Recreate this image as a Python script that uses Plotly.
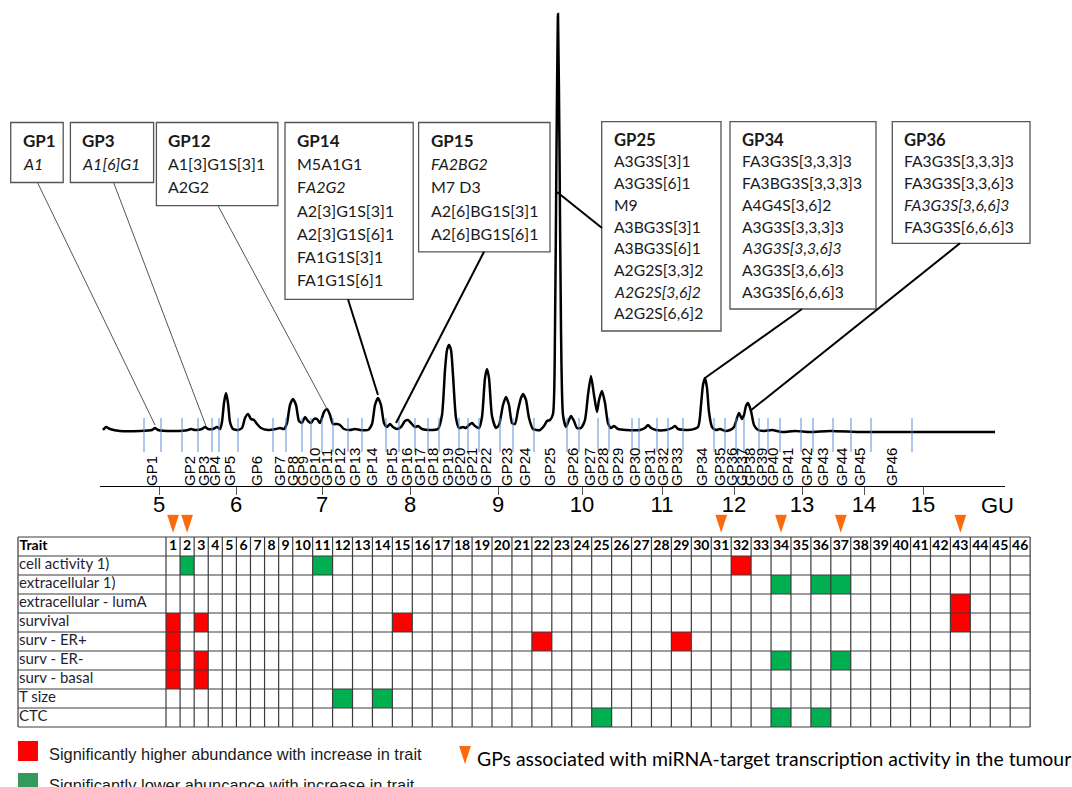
import plotly.graph_objects as go

W, H = 1072, 787

# ---------------- chromatogram: retention time (min) vs. fluorescence (EU) ----------------
rt_min = [0.15, 0.30, 0.50, 1.00, 2.00, 2.60, 2.75, 2.90, 3.75, 4.40, 4.55, 4.75, 5.10, 5.25, 5.40,
          5.65, 5.85, 6.00, 6.10, 6.20, 6.30, 6.40, 6.50, 6.65, 6.90, 7.10, 7.25, 7.40, 7.55, 7.70,
          7.85, 8.05, 8.40, 8.80, 9.00, 9.20, 9.35, 9.50, 9.65, 9.80, 9.95, 10.10, 10.25, 10.40, 10.55,
          10.70, 10.85, 11.00, 11.20, 11.35, 11.50, 11.65, 11.85, 12.00, 12.20, 12.50, 12.75, 13.00,
          13.40, 13.60, 13.75, 13.90, 14.05, 14.20, 14.35, 14.50, 14.65, 14.85, 15.05, 15.25, 15.40,
          15.55, 15.75, 15.90, 16.10, 16.50, 16.90, 17.10, 17.25, 17.35, 17.45, 17.55, 17.65, 17.80,
          17.95, 18.15, 18.30, 18.45, 18.60, 18.75, 18.95, 19.10, 19.25, 19.35, 19.45, 19.60, 19.80,
          19.95, 20.15, 20.30, 20.45, 20.60, 20.75, 20.90, 21.05, 21.15, 21.30, 21.45, 21.65, 22.00,
          22.20, 22.35, 22.50, 22.65, 22.75, 22.825, 22.90, 22.975, 23.05, 23.15, 23.30, 23.45, 23.55,
          23.70, 23.85, 24.05, 24.25, 24.40, 24.55, 24.70, 24.85, 24.95, 25.10, 25.25, 25.40, 25.55,
          25.70, 25.90, 26.30, 27.00, 27.25, 27.40, 27.55, 27.80, 28.30, 28.60, 28.75, 28.90, 29.40,
          29.90, 30.05, 30.15, 30.25, 30.35, 30.45, 30.60, 30.80, 31.00, 31.25, 31.50, 31.70, 31.85,
          31.95, 32.10, 32.20, 32.30, 32.40, 32.55, 32.70, 32.90, 33.20, 33.60, 34.10, 34.75, 35.50,
          36.50, 38.00, 40.00, 42.50, 44.75]
fluor = [0, 3, 1, -1, -1, 0, 2, 0, -1, 0, 1, 0, 1, 3, 1,
         1, 3, 1, 8, 27, 37, 27, 8, 1, 0, 2, 12, 16, 11, 10,
         6, 2, 0, 1, 2, 1, 7, 25, 31, 25, 9, 7, 13, 9, 7,
         11, 11, 7, 18, 21, 15, 6, 6, 5, 1, 0, 1, 0,
         0, 6, 25, 32, 25, 7, 3, 6, 3, 1, 3, 9, 10,
         7, 3, 4, 1, 0, 1, 15, 60, 80, 85, 80, 55, 12,
         2, 3, 2, 5, 7, 4, 2, 13, 52, 61, 52, 14, 2,
         5, 25, 33, 25, 7, 6, 20, 32, 36, 30, 12, 1, 0,
         4, 9, 10, 16, 100, 280, 416, 280, 100, 15, 3, 10, 14,
         9, 2, 2, 10, 35, 54, 35, 18, 30, 39, 27, 7, 2,
         4, 1, 0, 0, 2, 5, 2, 0, 0, 2, 4, 1, 0,
         3, 25, 45, 52, 42, 18, 3, 0, 1, -1, 0, 3, 12,
         17, 11, 15, 24, 27, 19, 5, 0, -1, 0, -2, -1, -2,
         -1, -2, -2, -2, -2]

# glycan peak (GP) integration boundaries, min
gp_bounds = [2.2, 3.05, 4.1, 4.9, 5.6, 5.95, 6.9, 8.65, 9.3, 10.1, 10.55, 11.1, 11.65, 12.4, 13.1,
             14.3, 14.95, 15.75, 16.4, 16.95, 17.95, 18.4, 18.95, 20.0, 20.65, 21.7, 23.35, 23.95,
             24.9, 25.45, 26.6, 26.95, 27.85, 28.4, 29.15, 30.7, 31.25, 31.8, 32.2, 32.95, 33.4,
             34.0, 35.05, 35.65, 36.65, 37.55, 38.55, 40.6]

gp_names = [f"GP{i}" for i in range(1, 47)]
gp_rt = [2.6, 4.5, 5.2, 5.75, 6.5, 7.85, 9.0, 9.65, 10.15, 10.75, 11.35, 12.0, 12.75, 13.6, 14.6,
         15.35, 16.0, 16.65, 17.4, 18.0, 18.6, 19.3, 20.35, 21.25, 22.5, 23.65, 24.5, 25.15, 25.9,
         26.75, 27.5, 28.15, 28.85, 30.1, 31.0, 31.6, 32.1, 32.5, 33.1, 33.65, 34.4, 35.35, 36.15,
         37.1, 38.0, 39.6]

# glucose-unit calibration ladder
gu_values = [5, 6, 7, 8, 9, 10, 11, 12, 13, 14, 15]
gu_rt = [2.95, 6.8, 11.1, 15.5, 19.9, 24.1, 28.1, 31.7, 35.1, 38.2, 41.15]

# structures assigned to the annotated peaks (italic = minor structure)
gp1_structures = ["<i>A1</i>"]
gp3_structures = ["<i>A1[6]G1</i>"]
gp12_structures = ["A1[3]G1S[3]1", "A2G2"]
gp14_structures = ["M5A1G1", "F<i>A2G2</i>", "A2[3]G1S[3]1", "A2[3]G1S[6]1", "FA1G1S[3]1", "FA1G1S[6]1"]
gp15_structures = ["<i>FA2BG2</i>", "M7 D3", "A2[6]BG1S[3]1", "A2[6]BG1S[6]1"]
gp25_structures = ["A3G3S[3]1", "A3G3S[6]1", "M9", "A3BG3S[3]1", "A3BG3S[6]1", "A2G2S[3,3]2",
                   "<i>A2G2S[3,6]2</i>", "A2G2S[6,6]2"]
gp34_structures = ["FA3G3S[3,3,3]3", "FA3BG3S[3,3,3]3", "A4G4S[3,6]2", "A3G3S[3,3,3]3",
                   "<i>A3G3S[3,3,6]3</i>", "A3G3S[3,6,6]3", "A3G3S[6,6,6]3"]
gp36_structures = ["FA3G3S[3,3,3]3", "FA3G3S[3,3,6]3", "<i>FA3G3S[3,6,6]3</i>", "FA3G3S[6,6,6]3"]

# ---------------- trait association table ----------------
traits = ["cell activity 1)", "extracellular 1)", "extracellular - lumA", "survival",
          "surv - ER+", "surv - ER-", "surv - basal", "T size", "CTC"]
gp_numbers = list(range(1, 47))
higher_with_trait = [("cell activity 1)", 32), ("extracellular - lumA", 43),
                     ("survival", 1), ("survival", 3), ("survival", 15), ("survival", 43),
                     ("surv - ER+", 1), ("surv - ER+", 22), ("surv - ER+", 29),
                     ("surv - ER-", 1), ("surv - ER-", 3),
                     ("surv - basal", 1), ("surv - basal", 3)]
lower_with_trait = [("cell activity 1)", 2), ("cell activity 1)", 11),
                    ("extracellular 1)", 34), ("extracellular 1)", 36), ("extracellular 1)", 37),
                    ("surv - ER-", 34), ("surv - ER-", 37),
                    ("T size", 12), ("T size", 14),
                    ("CTC", 25), ("CTC", 34), ("CTC", 36)]
mirna_target_gps = [1, 2, 31, 34, 37, 43]


def pxx(x):
    return x / W


def pxy(y):
    return 1 - y / H


TEXT_FONT = "Lato"
ARIAL = "Liberation Sans"
ORANGE = "#fb6a0c"

fig = go.Figure()

# GP boundary markers
bx, by = [], []
for t in gp_bounds:
    bx += [t, t, None]
    by += [12, -22, None]
fig.add_trace(go.Scatter(x=bx, y=by, mode="lines", xaxis="x2", yaxis="y",
                         line=dict(color="#5b8fd6", width=1), hoverinfo="skip"))

# chromatogram trace
fig.add_trace(go.Scatter(x=rt_min, y=fluor, mode="lines", xaxis="x", yaxis="y",
                         line=dict(color="black", width=2.5, shape="spline", smoothing=0.6),
                         hoverinfo="skip"))

# ---- table geometry (table units: one unit per row vertically) ----
TRAIT_W, NARROW_W, WIDE_W = 148.0, 14.08, 19.93
T_LEFT = 18.0
edges = [T_LEFT, T_LEFT + TRAIT_W]
for n in gp_numbers:
    edges.append(edges[-1] + (NARROW_W if n < 10 else WIDE_W))
centers = [(edges[i + 1] + edges[i + 2]) / 2 for i in range(len(gp_numbers))]

n_rows = len(traits) + 1
z = [[0] * (len(gp_numbers) + 1) for _ in range(n_rows)]
for trait, gp in higher_with_trait:
    z[traits.index(trait) + 1][gp] = 1
for trait, gp in lower_with_trait:
    z[traits.index(trait) + 1][gp] = -1

fig.add_trace(go.Heatmap(z=z, x=edges, y=list(range(n_rows + 1)), xaxis="x3", yaxis="y3",
                         zmin=-1, zmax=1, showscale=False, hoverinfo="skip",
                         colorscale=[[0, "#00b050"], [0.5, "#ffffff"], [1, "#ff0000"]]))

gx, gy = [], []
for e in edges:
    gx += [e, e, None]
    gy += [0, n_rows, None]
for r in range(n_rows + 1):
    gx += [edges[0], edges[-1], None]
    gy += [r, r, None]
fig.add_trace(go.Scatter(x=gx, y=gy, mode="lines", xaxis="x3", yaxis="y3",
                         line=dict(color="#3c3c3c", width=1.2), hoverinfo="skip"))

# header row
fig.add_trace(go.Scatter(x=centers, y=[0.5] * len(gp_numbers), text=[str(n) for n in gp_numbers],
                         mode="text", xaxis="x3", yaxis="y3", hoverinfo="skip",
                         textfont=dict(family=TEXT_FONT, size=14, color="black", weight="bold")))
fig.add_trace(go.Scatter(x=[T_LEFT + 1.5], y=[0.5], text=["Trait"], mode="text",
                         textposition="middle right", xaxis="x3", yaxis="y3", hoverinfo="skip",
                         textfont=dict(family=TEXT_FONT, size=14, color="black", weight="bold")))
# trait names
fig.add_trace(go.Scatter(x=[T_LEFT + 1.0] * len(traits), y=[i + 1.5 for i in range(len(traits))],
                         text=traits, mode="text", textposition="middle right",
                         xaxis="x3", yaxis="y3", hoverinfo="skip",
                         textfont=dict(family=TEXT_FONT, size=15, color="#1f1f33")))

# miRNA-target arrows above the table
fig.add_trace(go.Scatter(x=[centers[g - 1] for g in mirna_target_gps], y=[-0.22] * len(mirna_target_gps),
                         mode="markers", xaxis="x3", yaxis="y3", hoverinfo="skip",
                         marker=dict(symbol="arrow", angle=180, size=19, color=ORANGE,
                                     line=dict(width=0))))
# legend arrow
fig.add_trace(go.Scatter(x=[465], y=[11.95], mode="markers", xaxis="x3", yaxis="y3",
                         hoverinfo="skip",
                         marker=dict(symbol="arrow", angle=180, size=19, color=ORANGE,
                                     line=dict(width=0))))

shapes = []
annotations = []

# ---- structure boxes above the chromatogram ----
boxes = [
    ("GP1", gp1_structures, (10.7, 122.5, 63.2, 182.5), 23.2, 16),
    ("GP3", gp3_structures, (70.4, 122.5, 153.6, 182.5), 23.2, 16),
    ("GP12", gp12_structures, (156.4, 122.5, 277.9, 205.7), 23.2, 16),
    ("GP14", gp14_structures, (285.0, 122.5, 413.2, 299.3), 23.2, 16),
    ("GP15", gp15_structures, (418.6, 122.5, 550.0, 251.8), 23.2, 16),
    ("GP25", gp25_structures, (601.7, 121.7, 721.0, 331.0), 21.7, 15.7),
    ("GP34", gp34_structures, (730.0, 121.7, 876.0, 309.0), 21.7, 15.7),
    ("GP36", gp36_structures, (892.3, 121.7, 1030.0, 243.3), 21.7, 15.7),
]
for title, lines, (l, t, r, b), step, fs in boxes:
    shapes.append(dict(type="rect", xref="paper", yref="paper", x0=pxx(l), x1=pxx(r),
                       y0=pxy(b), y1=pxy(t), line=dict(color="#555555", width=1.3),
                       fillcolor="white", layer="above"))
    for i, txt in enumerate([f"<b>{title}</b>"] + lines):
        annotations.append(dict(xref="paper", yref="paper", x=pxx(l + 10), y=pxy(t + 18 + i * step),
                                xanchor="left", yanchor="middle", showarrow=False, text=txt,
                                font=dict(family=TEXT_FONT, size=fs + (1 if i == 0 else 0),
                                          color="#1a1a1a")))

# leader lines from boxes to peaks
leaders = [
    ((37.5, 182.5), (155, 425), 1, "#555555"),
    ((113.6, 182.5), (206, 426), 1, "#555555"),
    ((218.0, 205.7), (327, 409), 1, "#555555"),
    ((348.0, 299.3), (378, 395), 2, "black"),
    ((484.0, 251.8), (396, 423), 2, "black"),
    ((602.0, 228.0), (557, 192), 2, "black"),
    ((802.0, 309.0), (705, 378), 2, "black"),
    ((960.0, 243.3), (750, 411), 2, "black"),
]
for (x0, y0), (x1, y1), w, c in leaders:
    shapes.append(dict(type="line", xref="paper", yref="paper", x0=pxx(x0), y0=pxy(y0),
                       x1=pxx(x1), y1=pxy(y1), line=dict(color=c, width=w)))

# GU axis unit label
annotations.append(dict(xref="paper", yref="paper", x=pxx(997), y=pxy(505), text="GU",
                        showarrow=False, xanchor="center", yanchor="middle",
                        font=dict(family=ARIAL, size=22, color="black")))

# ---- legend ----
shapes.append(dict(type="rect", xref="paper", yref="paper", x0=pxx(18), x1=pxx(38),
                   y0=pxy(761), y1=pxy(741), line=dict(width=0), fillcolor="#ff0000"))
shapes.append(dict(type="rect", xref="paper", yref="paper", x0=pxx(18), x1=pxx(38),
                   y0=pxy(795), y1=pxy(773), line=dict(width=0), fillcolor="#33995f"))
annotations.append(dict(xref="paper", yref="paper", x=pxx(47), y=pxy(754), xanchor="left",
                        yanchor="middle", showarrow=False,
                        text="Significantly higher abundance with increase in trait",
                        font=dict(family=ARIAL, size=16.4, color="#1a1a1a")))
annotations.append(dict(xref="paper", yref="paper", x=pxx(47), y=pxy(785), xanchor="left",
                        yanchor="middle", showarrow=False,
                        text="Significantly lower abuncance with increase in trait",
                        font=dict(family=ARIAL, size=16.4, color="#1a1a1a")))
annotations.append(dict(xref="paper", yref="paper", x=pxx(475), y=pxy(758), xanchor="left",
                        yanchor="middle", showarrow=False,
                        text="GPs associated with miRNA-target transcription activity in the tumour",
                        font=dict(family=TEXT_FONT, size=19.4, color="black")))

fig.update_layout(
    width=W, height=H, margin=dict(l=0, r=0, t=0, b=0),
    paper_bgcolor="white", plot_bgcolor="rgba(0,0,0,0)", showlegend=False,
    xaxis=dict(domain=[pxx(100), pxx(1005)], range=[0, 45.25], anchor="y",
               tickvals=gu_rt, ticktext=[str(v) for v in gu_values],
               ticks="outside", ticklen=8, tickcolor="#555555", tickwidth=1,
               ticklabelstandoff=-10,
               showline=True, linecolor="black", linewidth=1.2, showgrid=False, zeroline=False,
               tickfont=dict(family=ARIAL, size=22, color="black")),
    xaxis2=dict(overlaying="x", range=[0, 45.25], side="top", anchor="free", position=pxy(486),
                tickvals=gp_rt, ticktext=gp_names, tickangle=-90, ticks="",
                showline=False, showgrid=False, zeroline=False,
                tickfont=dict(family=ARIAL, size=15, color="black")),
    yaxis=dict(domain=[pxy(486), pxy(10)], range=[-56, 420], visible=False),
    xaxis3=dict(domain=[pxx(17), pxx(1031.3)], range=[17, 1031.3], visible=False, anchor="y3"),
    # rows are 19 px tall; the range reaches above the header and down to the legend
    yaxis3=dict(domain=[pxy(537 + 12.5 * 19), pxy(537 - 1.2 * 19)], range=[12.5, -1.2],
                visible=False, anchor="x3"),
    shapes=shapes, annotations=annotations,
)

fig.write_html("out.html")
